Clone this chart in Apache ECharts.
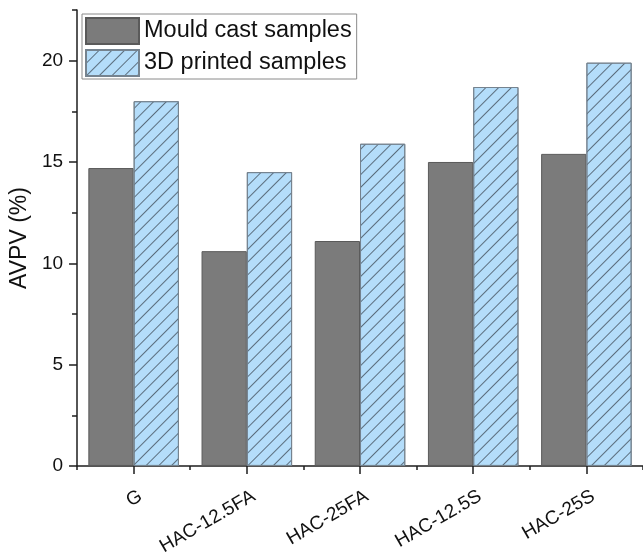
<!DOCTYPE html>
<html>
<head>
<meta charset="utf-8">
<script src="https://cdn.jsdelivr.net/npm/echarts@6/dist/echarts.min.js"></script>
<style>
html,body{margin:0;padding:0;background:#fff;}
#chart{width:643px;height:558px;}
</style>
</head>
<body>
<div id="chart"></div>
<script>
const categories = ['G', 'HAC-12.5FA', 'HAC-25FA', 'HAC-12.5S', 'HAC-25S'];
const mouldCast = [14.7, 10.6, 11.1, 15.0, 15.4];
const printed3D = [18.0, 14.5, 15.9, 18.7, 19.9];
const seriesNames = ['Mould cast samples', '3D printed samples'];
const yAxisName = 'AVPV (%)';

const FONT = '"Liberation Sans", Arial, sans-serif';
const AXIS = '#1e1e1e';
const hatch = {
  symbol: 'rect',
  symbolSize: 1,
  dashArrayX: [1, 0],
  dashArrayY: [0.9, 7.4],
  rotation: -Math.PI / 4,
  color: 'rgba(75,90,104,0.85)'
};

const chart = echarts.init(document.getElementById('chart'), null, {renderer: 'canvas'});
chart.setOption({
  animation: false,
  backgroundColor: '#ffffff',
  grid: {left: 74, right: -1, top: 10, bottom: 90, containLabel: false},
  legend: {
    orient: 'vertical',
    left: 82,
    top: 14,
    padding: [3, 5, 2, 3],
    itemWidth: 53,
    itemHeight: 26,
    itemGap: 4,
    icon: 'rect',
    borderColor: '#8a8a8a',
    borderWidth: 1,
    textStyle: {fontFamily: FONT, fontSize: 23.5, color: '#111', lineHeight: 26, height: 26},
    data: seriesNames
  },
  xAxis: [
    {
      type: 'category',
      data: categories,
      position: 'bottom',
      axisLine: {show: true, lineStyle: {color: AXIS, width: 1.5}},
      axisTick: {show: true, alignWithLabel: true, length: 8, lineStyle: {color: AXIS, width: 1.5}},
      axisLabel: {
        rotate: 30, margin: 33, padding: [0, -8, 0, 0],
        fontFamily: FONT, fontSize: 19, color: '#111', interval: 0
      },
      splitLine: {show: false}
    },
    {
      type: 'category',
      data: categories,
      position: 'bottom',
      offset: 0,
      axisLine: {show: false},
      axisTick: {show: true, length: 4, lineStyle: {color: AXIS, width: 1.5}},
      axisLabel: {show: false},
      splitLine: {show: false}
    }
  ],
  yAxis: [
    {
      type: 'value',
      min: 0,
      max: 22.5,
      interval: 5,
      position: 'left',
      name: yAxisName,
      nameLocation: 'middle',
      nameGap: 37,
      nameTextStyle: {fontFamily: FONT, fontSize: 23, color: '#111'},
      axisLine: {show: true, lineStyle: {color: AXIS, width: 1.5}},
      axisTick: {show: true, length: 8, lineStyle: {color: AXIS, width: 1.5}},
      axisLabel: {show: true, margin: 14, showMaxLabel: false, fontFamily: FONT, fontSize: 19, color: '#111'},
      splitLine: {show: false}
    },
    {
      type: 'value',
      min: 0,
      max: 22.5,
      interval: 2.5,
      position: 'left',
      offset: 0,
      axisLine: {show: false},
      axisTick: {show: true, length: 5, lineStyle: {color: AXIS, width: 1.5}},
      axisLabel: {show: false},
      splitLine: {show: false}
    }
  ],
  series: [
    {
      name: seriesNames[0],
      type: 'bar',
      xAxisIndex: 0,
      yAxisIndex: 0,
      data: mouldCast,
      barGap: '0%',
      barCategoryGap: '20%',
      itemStyle: {color: '#7b7b7b', borderColor: '#5a5a5a', borderWidth: 1}
    },
    {
      name: seriesNames[1],
      type: 'bar',
      xAxisIndex: 0,
      yAxisIndex: 0,
      data: printed3D,
      barGap: '0%',
      barCategoryGap: '20%',
      itemStyle: {color: '#b4ddfa', borderColor: '#75838f', borderWidth: 1, decal: hatch}
    }
  ]
});
</script>
</body>
</html>
